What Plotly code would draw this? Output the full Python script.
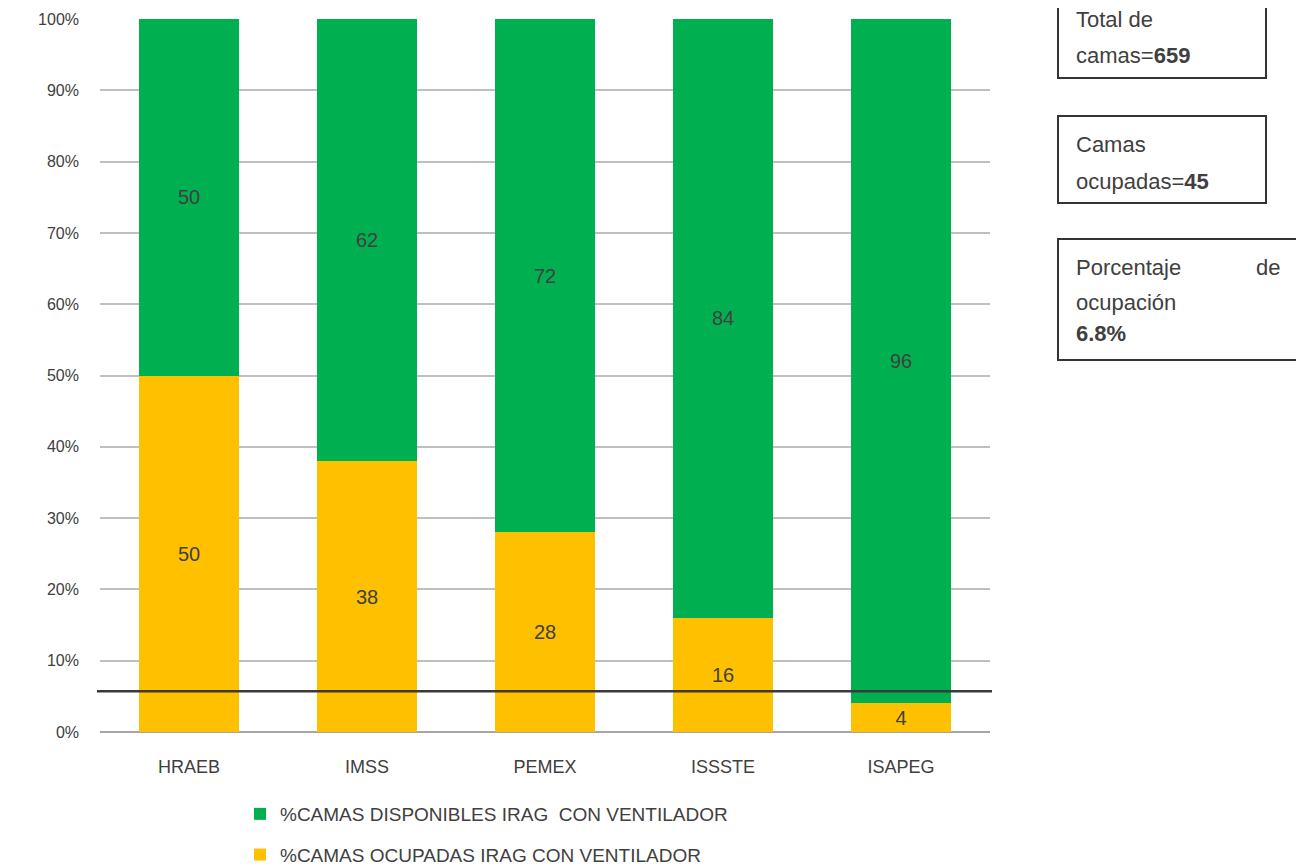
import plotly.graph_objects as go

categories = ["HRAEB", "IMSS", "PEMEX", "ISSSTE", "ISAPEG"]
ocupadas = [50, 38, 28, 16, 4]
disponibles = [50, 62, 72, 84, 96]
name_disp = "%CAMAS DISPONIBLES IRAG  CON VENTILADOR"
name_ocup = "%CAMAS OCUPADAS IRAG CON VENTILADOR"
ref_line = 5.7
y_ticks = [0, 10, 20, 30, 40, 50, 60, 70, 80, 90, 100]
y_ticklabels = [f"{v}%" for v in y_ticks]

# page body has an 8px margin; figure is sized so it fits the window
OFF = 8
W, H = 1304 - OFF, 866 - OFF
L, R, T, B = 100, 990, 19, 732  # plot area in screen pixels
def px(x):
    return (x - L) / (R - L)
def py(y):
    return (B - y) / (B - T)

FONT = "Liberation Sans Narrow, Arial Narrow, Liberation Sans, Arial"
TXT = "#404040"

fig = go.Figure()
fig.add_trace(go.Bar(
    x=categories, y=ocupadas, name=name_ocup, marker=dict(color="#FFC000", line=dict(width=0)),
    text=[str(v) for v in ocupadas], textposition="inside", insidetextanchor="middle",
    textfont=dict(size=20, color=TXT, family=FONT), legendgroup="b", legendrank=2,
))
fig.add_trace(go.Bar(
    x=categories, y=disponibles, name=name_disp, marker=dict(color="#00B050", line=dict(width=0)),
    text=[str(v) for v in disponibles], textposition="inside", insidetextanchor="middle",
    textfont=dict(size=20, color=TXT, family=FONT), legendgroup="a", legendrank=1,
))

shapes = [
    dict(type="line", xref="paper", yref="y", x0=px(97), x1=px(992), y0=ref_line, y1=ref_line,
         line=dict(color="#3a3a3a", width=2.5)),
]
boxes = [(1058, 1266, -5, 78), (1058, 1266, 116, 203), (1058, 1300, 239, 360)]
for x0, x1, y0, y1 in boxes:
    shapes.append(dict(type="rect", xref="paper", yref="paper", x0=px(x0), x1=px(x1),
                       y0=py(y1), y1=py(y0), line=dict(color="#333333", width=2),
                       fillcolor="rgba(0,0,0,0)"))

ann = []
def lab(x, y, text, anchor="left"):
    ann.append(dict(xref="paper", yref="paper", x=px(x), y=py(y), text=text, showarrow=False,
                    xanchor=anchor, yanchor="middle", font=dict(size=22, color=TXT, family=FONT)))
lab(1074, 19, "Total de")
lab(1074, 55, "camas=<b>659</b>")
lab(1074, 144, "Camas")
lab(1074, 181, "ocupadas=<b>45</b>")
lab(1074, 267, "Porcentaje")
lab(1282, 267, "de", "right")
lab(1074, 302, "ocupación")
lab(1074, 333, "<b>6.8%</b>")

fig.update_layout(
    width=W, height=H, barmode="stack", bargap=0.435,
    margin=dict(l=L - OFF, r=W - (R - OFF), t=T - OFF, b=H - (B - OFF), autoexpand=False),
    plot_bgcolor="white", paper_bgcolor="white",
    font=dict(family=FONT, color=TXT),
    uniformtext=dict(minsize=19, mode="show"),
    shapes=shapes, annotations=ann,
    legend=dict(orientation="v", x=px(240), y=py(795), xanchor="left", yanchor="top",
                traceorder="grouped", tracegroupgap=13,
                font=dict(size=19, color=TXT, family=FONT), itemwidth=30),
    xaxis=dict(showgrid=False, showline=False, ticks="", ticklabelstandoff=22,
               tickfont=dict(size=18, color="#404040", family=FONT)),
    yaxis=dict(range=[0, 100], tickvals=y_ticks, ticktext=y_ticklabels, showgrid=True,
               gridcolor="#BFBFBF", gridwidth=2, zeroline=True, zerolinecolor="#A6A6A6",
               zerolinewidth=2, ticks="", ticklabelstandoff=20,
               tickfont=dict(size=16, color="#404040", family=FONT)),
)

fig.write_html("out.html")
